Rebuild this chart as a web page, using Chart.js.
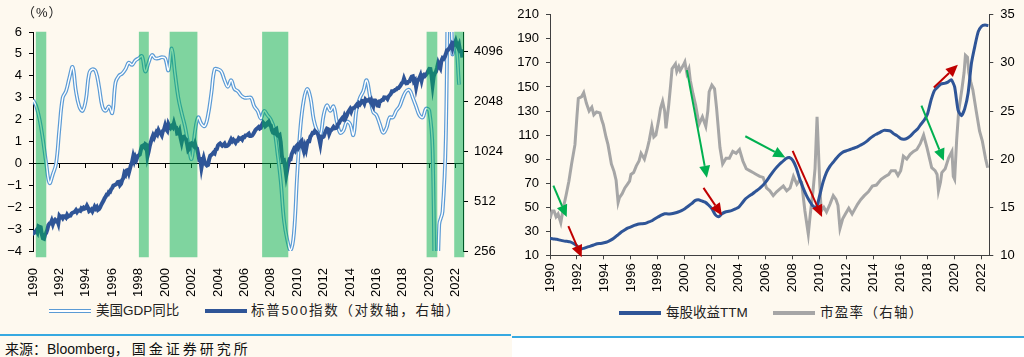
<!DOCTYPE html>
<html><head><meta charset="utf-8">
<script src="https://cdn.jsdelivr.net/npm/chart.js@4/dist/chart.umd.min.js"></script>
<style>
body{margin:0;width:1024px;height:357px;position:relative;overflow:hidden;background:#fff;font-family:"Liberation Sans","Noto Sans CJK SC",sans-serif;}
.abs{position:absolute}
.lg{position:absolute;font-size:13.5px;color:#222;white-space:nowrap;line-height:16px;font-family:"Liberation Sans","Noto Sans CJK SC",sans-serif}
</style></head><body>
<div class="abs" style="left:0;top:0;width:512px;height:357px;background:#fef9ef"></div>
<div class="abs" style="left:512px;top:0;width:512px;height:337px;background:#fef9ef"></div>
<div class="abs" style="left:0;top:334px;width:511px;height:2px;background:#36a9e1"></div>
<div class="abs" style="left:512px;top:336px;width:512px;height:2px;background:#36a9e1"></div>
<canvas id="c1" class="abs" width="512" height="300" style="left:0;top:0"></canvas>
<canvas id="c2" class="abs" width="512" height="300" style="left:512px;top:0"></canvas>
<div class="lg" style="left:22px;top:5px;font-size:13px;letter-spacing:1px">（%）</div>
<div class="abs" style="left:49px;top:309px;width:42px;height:2px;background:#fff;border-top:1px solid #5b9bd5;border-bottom:1px solid #5b9bd5"></div>
<div class="lg" style="left:96px;top:303px">美国GDP同比</div>
<div class="abs" style="left:205px;top:309px;width:42px;height:4px;background:#2f5597"></div>
<div class="lg" style="left:251px;top:303px;letter-spacing:1.7px">标普500指数（对数轴，右轴）</div>
<div class="abs" style="left:619px;top:311px;width:42px;height:4px;background:#2f5597"></div>
<div class="lg" style="left:666px;top:305px">每股收益TTM</div>
<div class="abs" style="left:773px;top:311px;width:42px;height:4px;background:#a6a6a6"></div>
<div class="lg" style="left:820px;top:305px;letter-spacing:1.3px">市盈率（右轴）</div>
<div class="abs" style="left:5px;top:340px;font-size:14px;color:#111;white-space:nowrap;line-height:18px">来源：Bloomberg<span style="letter-spacing:3px">，国金证券研究所</span></div>
<script>
// ---------- data: left chart ----------
const yearTicks = [1990,1992,1994,1996,1998,2000,2002,2004,2006,2008,2010,2012,2014,2016,2018,2020,2022];
const gdpTicks = [-4,-3,-2,-1,0,1,2,3,4,5,6];
const spTicks = [256,512,1024,2048,4096];
// shaded periods (years)
const shadeStart = [1990.24, 1998.04, 2000.37, 2007.37, 2019.82, 2021.91];
const shadeEnd   = [1990.98, 1998.74, 2002.42, 2009.30, 2020.58, 2022.62];
// US GDP yoy (%), quarterly from 1990.00, step 0.25 year
const gdpYoY = [
 2.9,2.6,2.0,1.1, 0.0,-0.9,-0.5,0.0, 1.6,3.0,3.3,3.9, 4.4,3.3,2.6,2.4,
 2.9,4.1,4.3,4.2, 3.5,2.6,2.4,2.6, 2.3,3.7,4.0,4.1, 4.3,4.6,4.5,4.7,
 4.8,4.9,4.2,4.6, 4.95,4.8,4.8,4.85, 4.8,4.25,5.25,4.1, 3.0,2.3,1.7,0.9,
 0.2,1.4,2.1,1.8, 1.7,2.2,3.2,4.3, 4.3,4.2,3.8,3.5, 3.8,3.4,3.3,3.1,
 3.0,3.0,3.0,2.6, 2.4,2.05,2.4,2.2, 2.0,1.6,0.5,-0.8, -2.6,-3.5,-3.96,-3.2,
 -0.5,1.7,2.9,3.4, 3.0,2.0,1.5,1.3, 2.2,2.65,2.4,2.6, 1.9,1.4,1.5,1.9,
 1.8,1.3,2.5,3.0, 3.3,3.8,3.1,2.35, 2.2,1.8,1.4,1.6, 2.1,2.1,2.4,2.6,
 3.0,3.3,3.35,3.0, 2.6,2.2,2.1,2.5, 2.4,0.6,-9.0,-2.8, -2.2,1.2,12.2,5.0,
 5.5,3.6
];
// S&P 500 monthly closes, from 1990.00, step 1/12 year
const sp500 = [340,
 329,332,340,331,361,358,356,323,306,304,322,330,
 344,367,375,375,390,371,388,395,388,392,375,417,
 409,413,404,415,415,408,424,414,418,419,431,436,
 439,443,452,440,450,451,448,464,459,468,462,466,
 481,467,446,451,457,444,458,475,463,472,454,459,
 470,487,501,515,533,545,562,562,584,582,605,616,
 636,640,645,654,669,671,640,652,687,705,757,741,
 786,791,757,801,848,885,954,899,947,915,955,970,
 980,1049,1102,1112,1091,1134,1121,957,1017,1099,1164,1229,
 1280,1238,1286,1335,1302,1373,1329,1320,1283,1363,1389,1469,
 1394,1366,1499,1452,1421,1455,1431,1518,1437,1429,1315,1320,
 1366,1240,1160,1249,1256,1224,1211,1134,1041,1060,1139,1148,
 1130,1107,1147,1077,1067,990,912,916,815,886,936,880,
 856,841,848,917,964,975,990,1008,996,1051,1058,1112,
 1131,1145,1126,1107,1121,1141,1102,1104,1115,1130,1174,1212,
 1181,1204,1181,1157,1192,1191,1234,1220,1229,1207,1249,1248,
 1280,1281,1295,1311,1270,1270,1277,1304,1336,1378,1401,1418,
 1438,1407,1421,1482,1531,1503,1455,1474,1527,1549,1481,1468,
 1379,1331,1323,1386,1400,1280,1267,1283,1166,969,896,903,
 826,735,798,873,919,919,987,1021,1057,1036,1096,1115,
 1074,1104,1169,1187,1089,1031,1102,1049,1141,1183,1181,1258,
 1286,1327,1326,1364,1345,1321,1292,1219,1131,1253,1247,1258,
 1312,1366,1408,1398,1310,1362,1379,1407,1441,1412,1416,1426,
 1498,1515,1569,1598,1631,1606,1686,1633,1682,1757,1806,1848,
 1783,1859,1872,1884,1924,1960,1931,2003,1972,2018,2068,2059,
 1995,2105,2068,2086,2107,2063,2104,1972,1920,2079,2080,2044,
 1940,1932,2060,2065,2097,2099,2174,2171,2168,2126,2199,2239,
 2279,2364,2363,2384,2412,2423,2470,2472,2519,2575,2648,2674,
 2824,2714,2641,2648,2705,2718,2816,2902,2914,2712,2760,2507,
 2704,2784,2834,2946,2752,2942,2980,2926,2977,3038,3141,3231,
 3226,2954,2585,2912,3044,3100,3271,3500,3363,3270,3622,3756,
 3714,3811,3973,4181,4204,4298,4395,4523,4308,4605,4567,4766,
 4516,4374,4530,4132,4132,3785
];
// ---------- data: right chart ----------
const epsTicks = [10,30,50,70,90,110,130,150,170,190,210];
const peTicks = [10,15,20,25,30,35];
// EPS TTM, quarterly from 1990.00, step 0.25 year
const epsTTM = [
 24.0,23.6,23.3,22.6, 22.0,21.6,21.2,19.8, 17.8,15.3,15.8,16.8, 17.6,18.6,19.6,19.8,
 20.4,21.2,22.6,24.4, 26.7,29.0,30.8,32.6, 33.6,34.8,35.8,36.2, 36.4,37.4,38.5,40.2,
 41.8,43.4,44.6,44.4, 44.6,45.2,46.0,47.2, 48.8,50.8,52.9,55.5, 56.2,55.2,54.2,51.8,
 48.8,43.8,42.0,44.5, 46.0,46.6,47.4,48.6, 50.1,53.5,57.0,59.2, 61.0,63.2,65.3,67.8,
 71.0,75.0,79.0,82.5, 85.5,88.0,90.5,91.3, 89.0,83.0,74.0,66.5, 60.0,55.0,51.0,49.6,
 60.0,71.0,79.0,84.0, 87.5,91.0,94.0,96.0, 97.0,98.0,99.0,100.0, 101.5,103.0,105.0,107.5,
 109.5,111.0,112.5,113.9, 113.8,113.3,111.0,109.3, 107.0,106.5,107.5,109.5, 112.5,115.0,119.0,122.5,
 128.0,139.0,147.0,150.0, 152.5,153.0,154.0,156.0, 150.0,131.0,126.0,132.0, 145.0,170.0,184.0,196.0,
 200.5,201.5,201.0
];
// P/E (right axis): read points (year, value)
const peYears = [1990.0,1990.15,1990.3,1990.45,1990.6,1990.8,1991.0,1991.2,1991.4,1991.6,1991.85,1992.0,1992.1,1992.35,1992.5,1992.7,1992.9,1993.1,1993.25,1993.45,1993.7,1993.85,1993.95,1994.15,1994.3,1994.55,1994.75,1994.9,1995.05,1995.15,1995.35,1995.55,1995.75,1995.9,1996.0,1996.2,1996.4,1996.6,1996.75,1997.0,1997.2,1997.35,1997.55,1997.7,1997.85,1998.05,1998.2,1998.35,1998.5,1998.6,1998.8,1998.95,1999.05,1999.3,1999.4,1999.55,1999.65,1999.9,2000.0,2000.15,2000.3,2000.4,2000.6,2000.8,2001.05,2001.3,2001.55,2001.7,2001.8,2002.0,2002.2,2002.35,2002.6,2002.8,2003.05,2003.3,2003.55,2003.8,2004.05,2004.3,2004.55,2004.8,2005.05,2005.3,2005.55,2005.8,2006.05,2006.3,2006.55,2006.8,2007.05,2007.3,2007.55,2007.8,2008.05,2008.3,2008.5,2008.65,2008.9,2009.15,2009.3,2009.5,2009.65,2009.8,2009.9,2010.0,2010.1,2010.3,2010.5,2010.75,2011.0,2011.2,2011.35,2011.5,2011.7,2011.9,2012.15,2012.4,2012.6,2012.8,2013.05,2013.3,2013.6,2013.9,2014.2,2014.55,2014.85,2015.1,2015.3,2015.6,2015.8,2016.0,2016.1,2016.2,2016.45,2016.7,2016.95,2017.2,2017.45,2017.7,2017.95,2018.15,2018.3,2018.55,2018.7,2018.8,2018.95,2019.05,2019.3,2019.55,2019.8,2019.9,2020.0,2020.15,2020.3,2020.55,2020.7,2020.8,2020.95,2021.05,2021.2,2021.35,2021.6,2021.85,2022.05,2022.3,2022.45];
const peValues = [13.8,14.6,14.6,14.0,14.3,13.4,15.0,16.3,17.7,19.5,21.5,24.5,26.3,26.5,26.9,25.8,25.0,25.4,24.6,24.9,24.8,24.0,23.6,22.3,21.5,19.5,18.7,17.8,15.5,16.0,16.4,17.0,17.4,17.7,18.4,18.6,19.3,19.8,20.6,20.0,21.0,21.9,23.4,22.3,22.5,24.0,25.3,26.0,25.0,23.2,25.6,27.8,29.4,29.9,29.1,29.6,29.2,29.8,30.1,28.9,29.4,28.2,26.8,25.6,23.6,24.4,23.4,25.0,27.0,27.7,27.3,25.3,21.2,19.5,20.1,20.1,20.8,20.6,21.0,19.8,19.0,18.8,18.6,18.4,18.2,18.1,17.0,16.7,16.2,16.6,16.9,17.2,16.7,17.0,18.2,17.4,17.8,17.6,14.6,12.2,14.3,16.7,19.0,24.4,21.0,17.5,14.6,15.0,14.5,15.3,16.2,15.8,15.2,12.8,13.8,14.3,14.9,14.3,14.8,15.3,15.8,16.2,16.6,17.2,17.3,17.9,18.2,18.4,18.8,18.8,18.3,18.8,19.5,20.3,20.0,20.5,20.8,21.0,21.6,22.5,21.2,20.0,19.1,18.8,18.4,16.7,17.6,18.6,19.0,20.1,20.8,18.2,17.9,22.0,25.0,27.4,29.0,30.8,30.6,29.0,28.0,27.2,25.0,22.9,21.9,20.0,19.1];
// annotation arrows (year, EPS-axis value)
const arrowFromYear = [1990.25, 2000.15, 2004.48, 2017.54, 1991.36, 2001.38, 2007.99, 2018.46];
const arrowFromVal  = [68, 164, 109, 134.5, 34.2, 66.1, 96.8, 149.6];
const arrowToYear   = [1991.24, 2001.63, 2007.45, 2019.2, 1992.35, 2002.75, 2010.17, 2020.24];
const arrowToVal    = [41.8, 74.5, 91.3, 88.6, 8.4, 43.2, 41.8, 168.4];
const arrowKind     = ['g','g','g','g','r','r','r','r'];

// ---------- build ----------
Chart.defaults.font.family = "'Liberation Sans','Noto Sans CJK SC',sans-serif";
Chart.defaults.color = '#000';
const tickFont = {size: 13};
const setTicks = arr => (s => { s.ticks = arr.map(v => ({value: v})); });

const gdpPts = gdpYoY.map((v, i) => ({x: 1990 + i * 0.25, y: v}));
const spPts = sp500.map((v, i) => ({x: 1990 + i / 12, y: v}));
const shadePts = shadeStart.map((s, i) => ({x: [s, shadeEnd[i]], y: 0.485}));

new Chart(document.getElementById('c1'), {
  type: 'line',
  data: {datasets: [
    {type: 'bar', indexAxis: 'y', data: shadePts, xAxisID: 'x', yAxisID: 'yb',
     backgroundColor: 'rgba(0,176,80,0.5)', borderWidth: 0, barThickness: 225, clip: false, order: 0},
    {data: spPts, yAxisID: 'y2', borderColor: '#2f5597', borderWidth: 4, pointRadius: 0, tension: 0, order: 1},
    {data: gdpPts, yAxisID: 'y', borderColor: '#ffffff', borderWidth: 1.4, pointRadius: 0, tension: 0.4, order: 2},
    {data: gdpPts, yAxisID: 'y', borderColor: '#5b9bd5', borderWidth: 3.8, pointRadius: 0, tension: 0.4, order: 3}
  ]},
  options: {
    responsive: false, animation: false, devicePixelRatio: 1, events: [],
    plugins: {legend: {display: false}, tooltip: {enabled: false}},
    layout: {padding: {top: 32, left: 0, right: 0, bottom: 0}},
    scales: {
      x: {type: 'linear', position: 'bottom', min: 1990, max: 2022.55,
          afterBuildTicks: setTicks(yearTicks), afterFit: s => { s.height = 49; },
          grid: {display: false}, border: {display: false},
          ticks: {minRotation: 90, maxRotation: 90, autoSkip: false, padding: 9, font: tickFont, callback: v => String(v)}},
      x2: {type: 'linear', position: {y: 0}, min: 1990, max: 2022.55,
          afterBuildTicks: setTicks(yearTicks),
          grid: {drawOnChartArea: false, tickLength: 4, color: '#000'}, border: {color: '#000', width: 1},
          ticks: {display: false}},
      y: {type: 'linear', position: 'left', min: -4, max: 6,
          afterBuildTicks: setTicks(gdpTicks), afterFit: s => { s.width = 33; },
          grid: {drawOnChartArea: false, tickLength: 4, color: '#000'}, border: {color: '#000'},
          ticks: {padding: 7, font: tickFont, callback: v => v < 0 ? '\u2212' + Math.abs(v) : String(v)}},
      y2: {type: 'logarithmic', position: 'right', min: 256, max: 5400,
          afterBuildTicks: setTicks(spTicks), afterFit: s => { s.width = 49; },
          grid: {drawOnChartArea: false, tickLength: 5, color: '#000'}, border: {color: '#000'},
          ticks: {padding: 6, font: tickFont, callback: v => String(v)}},
      yb: {type: 'linear', display: false, min: 0, max: 1}
    }
  }
});

const epsPts = epsTTM.map((v, i) => ({x: 1990 + i * 0.25, y: v}));
const pePts = peValues.map((v, i) => ({x: peYears[i], y: v}));
const arrowColors = {g: '#00b050', r: '#c00000'};
const arrowPlugin = {
  id: 'arrows',
  afterDatasetsDraw(chart) {
    const {ctx} = chart, xs = chart.scales.x, ys = chart.scales.y;
    arrowFromYear.forEach((_, i) => {
      const x1 = xs.getPixelForValue(arrowFromYear[i]), y1 = ys.getPixelForValue(arrowFromVal[i]);
      const x2 = xs.getPixelForValue(arrowToYear[i]), y2 = ys.getPixelForValue(arrowToVal[i]);
      const a = Math.atan2(y2 - y1, x2 - x1), hl = 12, hw = 5.5;
      const bx = x2 - hl * Math.cos(a), by = y2 - hl * Math.sin(a);
      ctx.save();
      ctx.strokeStyle = ctx.fillStyle = arrowColors[arrowKind[i]];
      ctx.lineWidth = 2;
      ctx.beginPath(); ctx.moveTo(x1, y1); ctx.lineTo(bx, by); ctx.stroke();
      ctx.beginPath(); ctx.moveTo(x2, y2);
      ctx.lineTo(bx + hw * Math.sin(a), by - hw * Math.cos(a));
      ctx.lineTo(bx - hw * Math.sin(a), by + hw * Math.cos(a));
      ctx.closePath(); ctx.fill();
      ctx.restore();
    });
  }
};
const axisCol = '#404040';
new Chart(document.getElementById('c2'), {
  type: 'line',
  data: {datasets: [
    {data: epsPts, yAxisID: 'y', borderColor: '#2f5597', borderWidth: 3, pointRadius: 0, tension: 0.2, order: 0},
    {data: pePts, yAxisID: 'y2', borderColor: '#a6a6a6', borderWidth: 3, pointRadius: 0, tension: 0, order: 1}
  ]},
  options: {
    responsive: false, animation: false, devicePixelRatio: 1, events: [],
    plugins: {legend: {display: false}, tooltip: {enabled: false}},
    layout: {padding: {top: 12.7, left: 0, right: 0, bottom: 0}},
    scales: {
      x: {type: 'linear', position: 'bottom', min: 1990, max: 2022.57,
          afterBuildTicks: setTicks(yearTicks), afterFit: s => { s.height = 44.7; },
          grid: {drawOnChartArea: false, tickLength: 4, color: axisCol}, border: {color: axisCol},
          ticks: {minRotation: 90, maxRotation: 90, autoSkip: false, padding: 4, font: tickFont, callback: v => String(v)}},
      y: {type: 'linear', position: 'left', min: 10, max: 210,
          afterBuildTicks: setTicks(epsTicks), afterFit: s => { s.width = 38; },
          grid: {drawOnChartArea: false, tickLength: 4, color: axisCol}, border: {color: axisCol},
          ticks: {padding: 7, font: tickFont, callback: v => String(v)}},
      y2: {type: 'linear', position: 'right', min: 10, max: 35,
          afterBuildTicks: setTicks(peTicks), afterFit: s => { s.width = 34.7; },
          grid: {drawOnChartArea: false, tickLength: 4, color: axisCol}, border: {color: axisCol},
          ticks: {padding: 7, font: tickFont, callback: v => String(v)}}
    }
  },
  plugins: [arrowPlugin]
});
</script>
</body></html>
